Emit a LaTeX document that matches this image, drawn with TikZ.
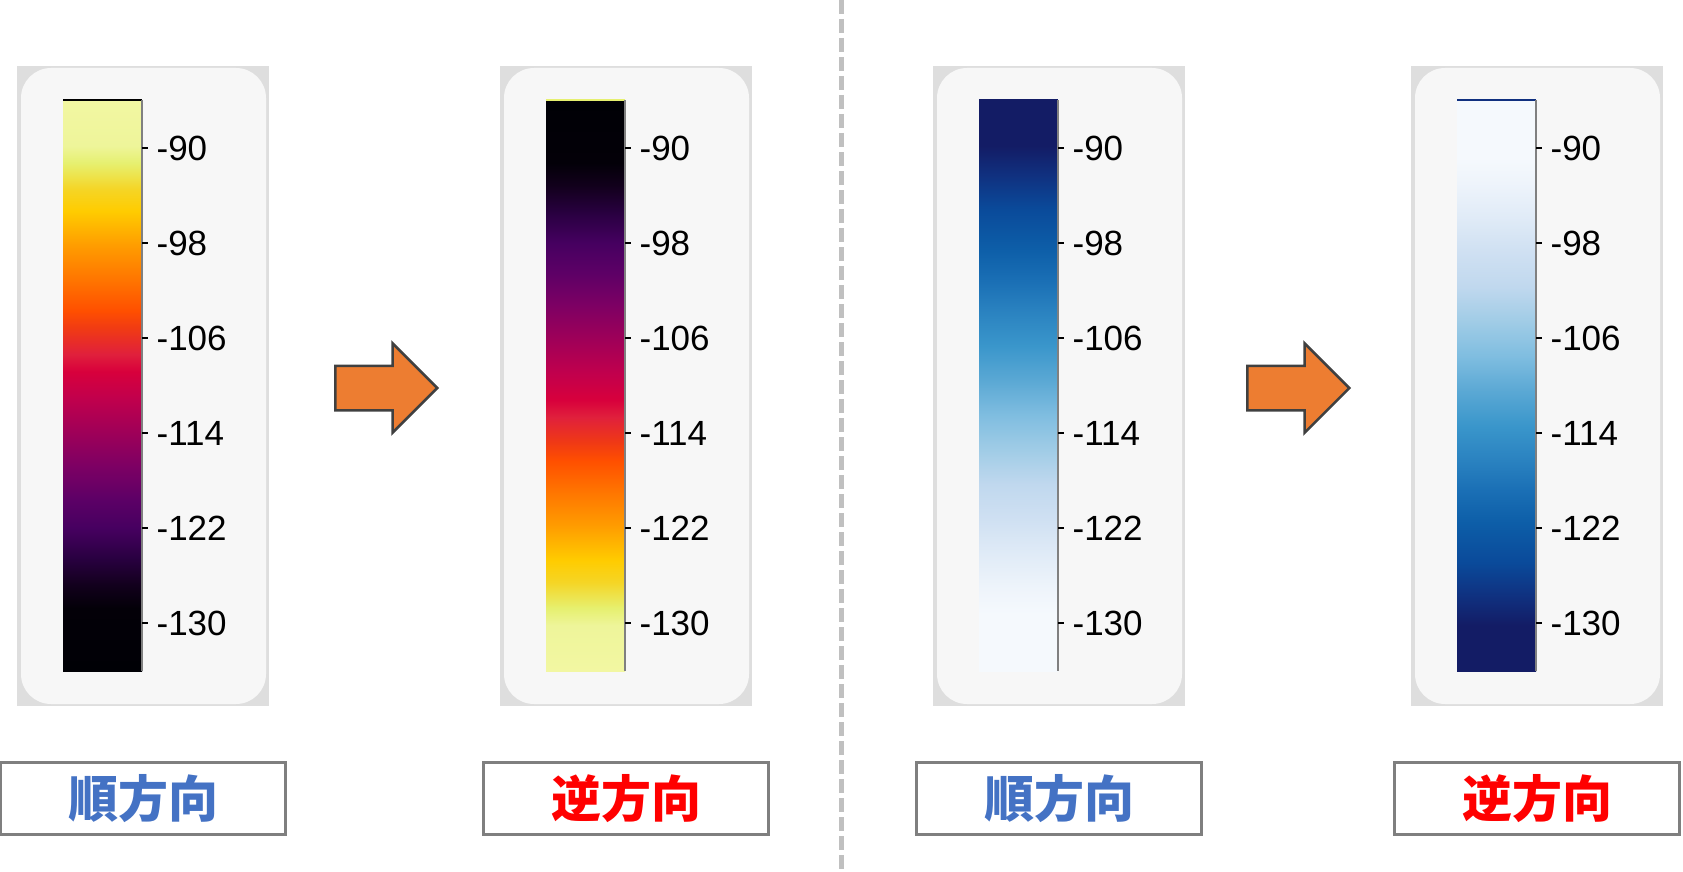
\documentclass[tikz,border=0pt]{standalone}
\usepackage{fontspec}
\setmainfont{Liberation Sans}
\newfontfamily\cjk{Noto Sans CJK JP}
\usepackage{xcolor}
\usepackage{tikz}
\usetikzlibrary{shapes.arrows,positioning,calc}

\definecolor{framegray}{HTML}{DEDEDE}
\definecolor{cardgray}{HTML}{F7F7F7}
\definecolor{axisgray}{HTML}{808080}
\definecolor{arroworange}{HTML}{ED7D31}
\definecolor{arrowgray}{HTML}{404040}
\definecolor{taggray}{HTML}{7F7F7F}
\definecolor{dashgray}{HTML}{C0C0C0}
\definecolor{jun}{HTML}{4472C4}
\definecolor{gyaku}{HTML}{FF0000}

% inferno-like bar, yellow at top
\definecolor{inf00}{HTML}{000005}
\definecolor{inf01}{HTML}{030008}
\definecolor{inf02}{HTML}{12001C}
\definecolor{inf03}{HTML}{2A0042}
\definecolor{inf04}{HTML}{460060}
\definecolor{inf05}{HTML}{5C0066}
\definecolor{inf06}{HTML}{7C0064}
\definecolor{inf07}{HTML}{A00058}
\definecolor{inf08}{HTML}{C2004C}
\definecolor{inf09}{HTML}{D8003C}
\definecolor{inf10}{HTML}{E0203C}
\definecolor{inf11}{HTML}{F03A14}
\definecolor{inf12}{HTML}{FF4F00}
\definecolor{inf13}{HTML}{FF7400}
\definecolor{inf14}{HTML}{FF9C00}
\definecolor{inf15}{HTML}{FFCC00}
\definecolor{inf16}{HTML}{F5D525}
\definecolor{inf17}{HTML}{E6F070}
\definecolor{inf18}{HTML}{EEF59A}
\definecolor{inf19}{HTML}{F2F7A2}
\pgfdeclareverticalshading{inferno}{100bp}{%
  color(0bp)=(inf00); color(25bp)=(inf00); color(30.5bp)=(inf01);
  color(32.5bp)=(inf02); color(35bp)=(inf03); color(37.5bp)=(inf04);
  color(40bp)=(inf05); color(42.85bp)=(inf06); color(46bp)=(inf07);
  color(49bp)=(inf08); color(51.25bp)=(inf09); color(52.75bp)=(inf10);
  color(55bp)=(inf11); color(56.55bp)=(inf12); color(59.2bp)=(inf13);
  color(62.25bp)=(inf14); color(65.3bp)=(inf15); color(67.2bp)=(inf16);
  color(69.5bp)=(inf17); color(71bp)=(inf18); color(75bp)=(inf19);
  color(100bp)=(inf19)}

% blues bar, navy at top
\definecolor{blu00}{HTML}{F5F9FD}
\definecolor{blu01}{HTML}{EEF4FB}
\definecolor{blu02}{HTML}{E0EBF7}
\definecolor{blu03}{HTML}{CFE0F2}
\definecolor{blu04}{HTML}{C0D8EE}
\definecolor{blu05}{HTML}{A0CCE6}
\definecolor{blu06}{HTML}{7FBDE0}
\definecolor{blu07}{HTML}{5AA8D4}
\definecolor{blu08}{HTML}{3A96CB}
\definecolor{blu09}{HTML}{2A82C0}
\definecolor{blu10}{HTML}{1A6FB5}
\definecolor{blu11}{HTML}{0D5EA8}
\definecolor{blu12}{HTML}{0A4A9A}
\definecolor{blu13}{HTML}{10307F}
\definecolor{blu14}{HTML}{131C65}
\pgfdeclareverticalshading{blues}{100bp}{%
  color(0bp)=(blu00); color(30bp)=(blu00); color(32.25bp)=(blu01);
  color(35.25bp)=(blu02); color(38.3bp)=(blu03); color(41.35bp)=(blu04);
  color(44.4bp)=(blu05); color(47.45bp)=(blu06); color(50.5bp)=(blu07);
  color(53.5bp)=(blu08); color(56.55bp)=(blu09); color(59.2bp)=(blu10);
  color(62bp)=(blu11); color(65.5bp)=(blu12); color(68.5bp)=(blu13);
  color(71bp)=(blu14); color(100bp)=(blu14)}

\begin{document}
\begin{tikzpicture}[
  x=1pt, y=-1pt,
  cbar/.style={inner sep=0pt, minimum width=79pt, minimum height=571pt, anchor=north west},
  tickmark/.style={line width=1.5pt, black},
  ticklab/.style={anchor=west, inner sep=0pt, font=\fontsize{35}{35}\selectfont},
  blockarrow/.style={single arrow, single arrow tip angle=90, single arrow head extend=22.5pt,
    minimum height=102pt, inner xsep=0pt, inner ysep=21pt,
    fill=arroworange, draw=arrowgray, line width=2.5pt, anchor=tail},
  tag/.style={draw=taggray, line width=3pt, minimum width=285pt, minimum height=72pt,
    inner sep=0pt, font=\cjk\bfseries\fontsize{50}{50}\selectfont}
]
  \useasboundingbox (0,0) rectangle (1683,872);

  % divider
  \coordinate (divtop) at (841.5,0);
  \coordinate (divbot) at (841.5,872);
  \draw[dashgray, line width=4.5pt, dash pattern=on 14pt off 5pt] (divtop) -- (divbot);

  % four colour bars
  \foreach \px/\shd/\ang/\topc/\lab/\labc [count=\i] in
      {17/inferno/0/black/順方向/jun,
       500/inferno/180/inf17/逆方向/gyaku,
       933/blues/0/blu14/順方向/jun,
       1411/blues/180/blu13/逆方向/gyaku} {
    \fill[framegray] (\px,66) rectangle +(252,640);
    \fill[cardgray, rounded corners=30pt] (\px+4,68) rectangle +(245,636);
    \node[cbar, shading=\shd, shading angle=\ang] (bar\i) at (\px+46,100) {};
    \draw[line width=2pt, \topc] (bar\i.north west) -- (bar\i.north east);
    \draw[line width=2pt, axisgray] (bar\i.north east) -- (bar\i.south east);
    \foreach \v [count=\k from 0] in {90,98,106,114,122,130} {
      \node[ticklab] (lab\i-\k) at ($(bar\i.north east)+(14,48+95*\k)$) {-\v};
      \draw[tickmark] (lab\i-\k.west -| bar\i.east) -- ++(6,0);
    }
    \node[tag, text=\labc] (tag\i) at (\px+126,798.5) {\lab};
  }

  % arrows
  \node[blockarrow] (arr1) at (334,388) {};
  \node[blockarrow] (arr2) at (1246,388) {};
\end{tikzpicture}
\end{document}
